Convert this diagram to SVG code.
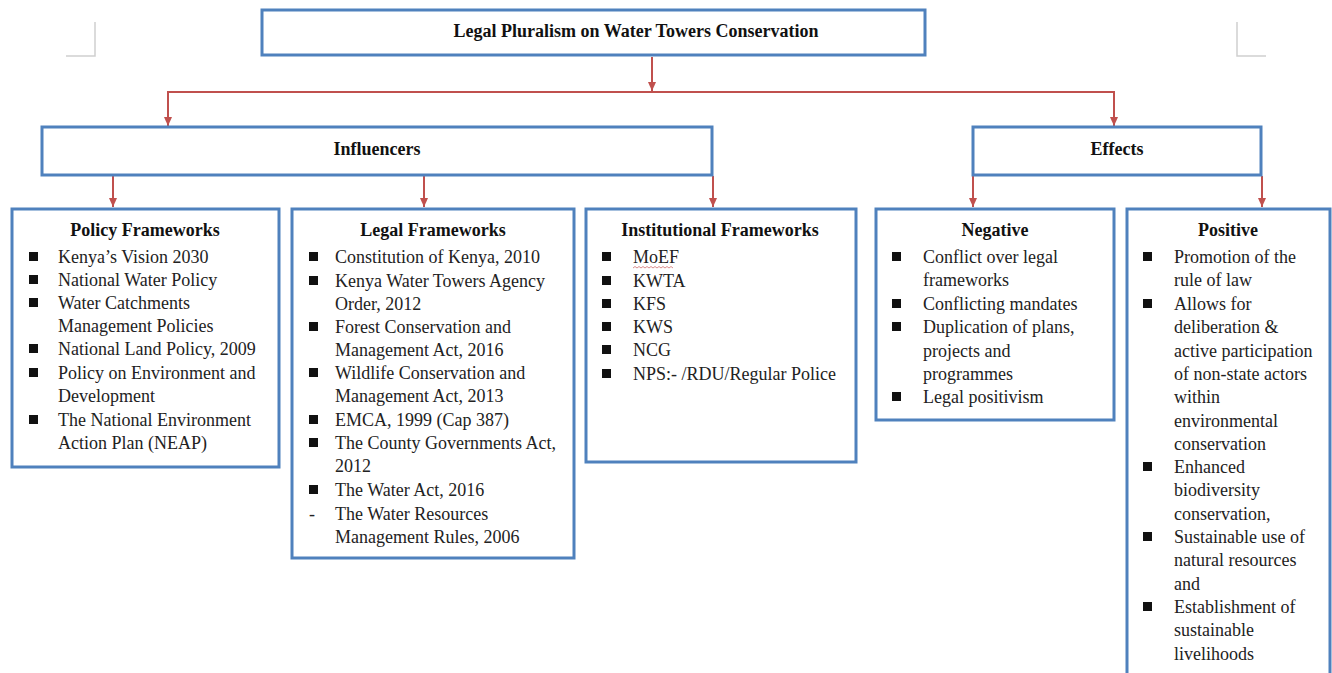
<svg xmlns="http://www.w3.org/2000/svg" width="1332" height="673" viewBox="0 0 1332 673">
<defs>
<marker id="ah" markerWidth="10" markerHeight="10" refX="9" refY="5" orient="auto" markerUnits="userSpaceOnUse">
<path d="M0,1 L9,5 L0,9 Z" fill="#c0504d"/>
</marker>
<style>
.box{fill:#ffffff;stroke:#4f81bd;stroke-width:3}
.hd{font-family:"Liberation Serif","Times New Roman",serif;font-weight:bold;font-size:18px;fill:#111;text-anchor:middle}
.tx{font-family:"Liberation Serif","Times New Roman",serif;font-size:18px;fill:#222}
.bl{fill:#111}
.cn{fill:none;stroke:#c0504d;stroke-width:2}
.crop{fill:none;stroke:#d0d0d0;stroke-width:1.5}
</style>
</defs>
<rect width="1332" height="673" fill="#ffffff"/>
<g id="cropmarks">
<path class="crop" d="M95,22 V56 H66"/>
<path class="crop" d="M1237,22 V56 H1266"/>
</g>
<g id="connectors">
<line class="cn" x1="652" y1="57" x2="652" y2="91" marker-end="url(#ah)"/>
<line class="cn" x1="167" y1="92" x2="1115" y2="92"/>
<line class="cn" x1="168" y1="92" x2="168" y2="126" marker-end="url(#ah)"/>
<line class="cn" x1="1114" y1="92" x2="1114" y2="126" marker-end="url(#ah)"/>
<line class="cn" x1="113" y1="176" x2="113" y2="207" marker-end="url(#ah)"/>
<line class="cn" x1="424" y1="176" x2="424" y2="207" marker-end="url(#ah)"/>
<line class="cn" x1="713" y1="176" x2="713" y2="207" marker-end="url(#ah)"/>
<line class="cn" x1="973" y1="176" x2="973" y2="207" marker-end="url(#ah)"/>
<line class="cn" x1="1262" y1="176" x2="1262" y2="207" marker-end="url(#ah)"/>
</g>
<g id="title">
<rect class="box" x="262" y="10" width="663" height="45"/>
<text class="hd" x="636" y="37">Legal Pluralism on Water Towers Conservation</text>
</g>
<g id="influencers">
<rect class="box" x="42" y="127" width="670" height="48"/>
<text class="hd" x="377" y="155">Influencers</text>
</g>
<g id="effects">
<rect class="box" x="973" y="127" width="288" height="48"/>
<text class="hd" x="1117" y="155">Effects</text>
</g>
<g id="policy">
<rect class="box" x="12" y="209" width="267" height="258"/>
<text class="hd" x="145" y="236">Policy Frameworks</text>
<rect class="bl" x="29" y="252" width="9" height="9"/>
<rect class="bl" x="29" y="275" width="9" height="9"/>
<rect class="bl" x="29" y="298" width="9" height="9"/>
<rect class="bl" x="29" y="344" width="9" height="9"/>
<rect class="bl" x="29" y="368" width="9" height="9"/>
<rect class="bl" x="29" y="415" width="9" height="9"/>
<text class="tx" x="58" y="263">Kenya’s Vision 2030</text>
<text class="tx" x="58" y="286">National Water Policy</text>
<text class="tx" x="58" y="309">Water Catchments</text>
<text class="tx" x="58" y="332">Management Policies</text>
<text class="tx" x="58" y="355">National Land Policy, 2009</text>
<text class="tx" x="58" y="379">Policy on Environment and</text>
<text class="tx" x="58" y="402">Development</text>
<text class="tx" x="58" y="426">The National Environment</text>
<text class="tx" x="58" y="449">Action Plan (NEAP)</text>
</g>
<g id="legal">
<rect class="box" x="292" y="209" width="282" height="349"/>
<text class="hd" x="433" y="236">Legal Frameworks</text>
<rect class="bl" x="309" y="252" width="9" height="9"/>
<rect class="bl" x="309" y="276" width="9" height="9"/>
<rect class="bl" x="309" y="322" width="9" height="9"/>
<rect class="bl" x="309" y="368" width="9" height="9"/>
<rect class="bl" x="309" y="415" width="9" height="9"/>
<rect class="bl" x="309" y="438" width="9" height="9"/>
<rect class="bl" x="309" y="485" width="9" height="9"/>
<text class="tx" x="309" y="520">-</text>
<text class="tx" x="335" y="263">Constitution of Kenya, 2010</text>
<text class="tx" x="335" y="287">Kenya Water Towers Agency</text>
<text class="tx" x="335" y="310">Order, 2012</text>
<text class="tx" x="335" y="333">Forest Conservation and</text>
<text class="tx" x="335" y="356">Management Act, 2016</text>
<text class="tx" x="335" y="379">Wildlife Conservation and</text>
<text class="tx" x="335" y="402">Management Act, 2013</text>
<text class="tx" x="335" y="426">EMCA, 1999 (Cap 387)</text>
<text class="tx" x="335" y="449">The County Governments Act,</text>
<text class="tx" x="335" y="472">2012</text>
<text class="tx" x="335" y="496">The Water Act, 2016</text>
<text class="tx" x="335" y="520">The Water Resources</text>
<text class="tx" x="335" y="543">Management Rules, 2006</text>
</g>
<g id="institutional">
<rect class="box" x="586" y="209" width="270" height="253"/>
<text class="hd" x="720" y="236">Institutional Frameworks</text>
<rect class="bl" x="602" y="252" width="9" height="9"/>
<rect class="bl" x="602" y="276" width="9" height="9"/>
<rect class="bl" x="602" y="299" width="9" height="9"/>
<rect class="bl" x="602" y="322" width="9" height="9"/>
<rect class="bl" x="602" y="345" width="9" height="9"/>
<rect class="bl" x="602" y="369" width="9" height="9"/>
<text class="tx" x="633" y="263">MoEF</text>
<path d="M633,268 l2,-1.5 l2,1.5 l2,-1.5 l2,1.5 l2,-1.5 l2,1.5 l2,-1.5 l2,1.5 l2,-1.5 l2,1.5 l2,-1.5 l2,1.5 l2,-1.5 l2,1.5 l2,-1.5 l2,1.5 l2,-1.5 l2,1.5 l2,-1.5 l2,1.5" fill="none" stroke="#d07070" stroke-width="0.8"/>
<text class="tx" x="633" y="287">KWTA</text>
<text class="tx" x="633" y="310">KFS</text>
<text class="tx" x="633" y="333">KWS</text>
<text class="tx" x="633" y="356">NCG</text>
<text class="tx" x="633" y="380">NPS:- /RDU/Regular Police</text>
</g>
<g id="negative">
<rect class="box" x="876" y="209" width="238" height="211"/>
<text class="hd" x="995" y="236">Negative</text>
<rect class="bl" x="892" y="252" width="9" height="9"/>
<rect class="bl" x="892" y="299" width="9" height="9"/>
<rect class="bl" x="892" y="322" width="9" height="9"/>
<rect class="bl" x="892" y="392" width="9" height="9"/>
<text class="tx" x="923" y="263">Conflict over legal</text>
<text class="tx" x="923" y="286">frameworks</text>
<text class="tx" x="923" y="310">Conflicting mandates</text>
<text class="tx" x="923" y="333">Duplication of plans,</text>
<text class="tx" x="923" y="357">projects and</text>
<text class="tx" x="923" y="380">programmes</text>
<text class="tx" x="923" y="403">Legal positivism</text>
</g>
<g id="positive">
<rect class="box" x="1127" y="209" width="203" height="470"/>
<text class="hd" x="1228" y="236">Positive</text>
<rect class="bl" x="1143" y="252" width="9" height="9"/>
<rect class="bl" x="1143" y="299" width="9" height="9"/>
<rect class="bl" x="1143" y="462" width="9" height="9"/>
<rect class="bl" x="1143" y="532" width="9" height="9"/>
<rect class="bl" x="1143" y="602" width="9" height="9"/>
<text class="tx" x="1174" y="263">Promotion of the</text>
<text class="tx" x="1174" y="286">rule of law</text>
<text class="tx" x="1174" y="310">Allows for</text>
<text class="tx" x="1174" y="333">deliberation &amp;</text>
<text class="tx" x="1174" y="357">active participation</text>
<text class="tx" x="1174" y="380">of non-state actors</text>
<text class="tx" x="1174" y="403">within</text>
<text class="tx" x="1174" y="427">environmental</text>
<text class="tx" x="1174" y="450">conservation</text>
<text class="tx" x="1174" y="473">Enhanced</text>
<text class="tx" x="1174" y="496">biodiversity</text>
<text class="tx" x="1174" y="520">conservation,</text>
<text class="tx" x="1174" y="543">Sustainable use of</text>
<text class="tx" x="1174" y="566">natural resources</text>
<text class="tx" x="1174" y="590">and</text>
<text class="tx" x="1174" y="613">Establishment of</text>
<text class="tx" x="1174" y="636">sustainable</text>
<text class="tx" x="1174" y="660">livelihoods</text>
</g>
</svg>
